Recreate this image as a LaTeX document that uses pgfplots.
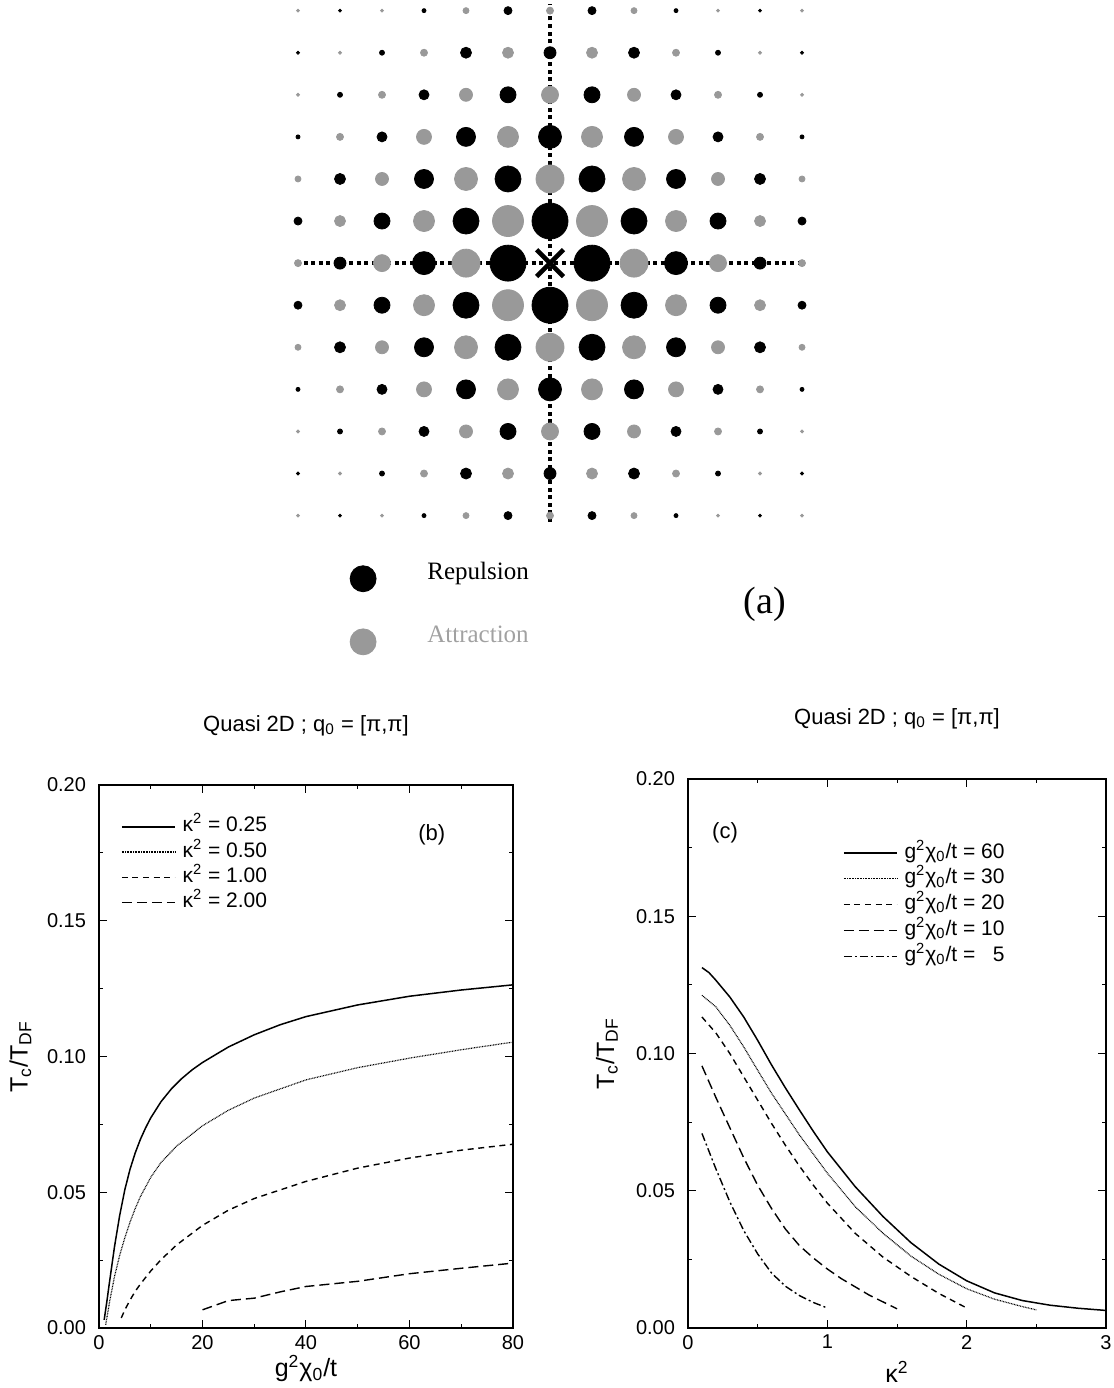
\documentclass[border=0pt]{standalone}
\usepackage{pgfplots}
\pgfplotsset{compat=1.18}
\usepackage{pgfplotstable}
\usepackage{fontspec}
\setmainfont{Liberation Serif}
\newfontfamily\hel{Liberation Sans}
\definecolor{dotgray}{gray}{0.6}
\definecolor{txtgray}{gray}{0.63}

\pgfplotstableread{
i j d
-5 6 3
-3 6 4
-1 6 8
1 6 8
3 6 4
5 6 3
-6 5 3
-4 5 5
-2 5 11
0 5 12
2 5 11
4 5 5
6 5 3
-5 4 5
-3 4 10
-1 4 16
1 4 16
3 4 10
5 4 5
-6 3 4
-4 3 10
-2 3 19
0 3 23
2 3 19
4 3 10
6 3 4
-5 2 11
-3 2 19
-1 2 26
1 2 26
3 2 19
5 2 11
-6 1 8
-4 1 16
-2 1 26
0 1 36
2 1 26
4 1 16
6 1 8
-5 0 12
-3 0 23
-1 0 36
1 0 36
3 0 23
5 0 12
-6 -1 8
-4 -1 16
-2 -1 26
0 -1 36
2 -1 26
4 -1 16
6 -1 8
-5 -2 11
-3 -2 19
-1 -2 26
1 -2 26
3 -2 19
5 -2 11
-6 -3 4
-4 -3 10
-2 -3 19
0 -3 23
2 -3 19
4 -3 10
6 -3 4
-5 -4 5
-3 -4 10
-1 -4 16
1 -4 16
3 -4 10
5 -4 5
-6 -5 3
-4 -5 5
-2 -5 11
0 -5 12
2 -5 11
4 -5 5
6 -5 3
-5 -6 3
-3 -6 4
-1 -6 8
1 -6 8
3 -6 4
5 -6 3
}\blackdots

\pgfplotstableread{
i j d
-6 6 3
-4 6 3
-2 6 6
0 6 7
2 6 6
4 6 3
6 6 3
-5 5 3
-3 5 7
-1 5 11
1 5 11
3 5 7
5 5 3
-6 4 3
-4 4 7
-2 4 13
0 4 17
2 4 13
4 4 7
6 4 3
-5 3 7
-3 3 15
-1 3 21
1 3 21
3 3 15
5 3 7
-6 2 6
-4 2 13
-2 2 23
0 2 28
2 2 23
4 2 13
6 2 6
-5 1 11
-3 1 21
-1 1 31
1 1 31
3 1 21
5 1 11
-6 0 7
-4 0 17
-2 0 28
2 0 28
4 0 17
6 0 7
-5 -1 11
-3 -1 21
-1 -1 31
1 -1 31
3 -1 21
5 -1 11
-6 -2 6
-4 -2 13
-2 -2 23
0 -2 28
2 -2 23
4 -2 13
6 -2 6
-5 -3 7
-3 -3 15
-1 -3 21
1 -3 21
3 -3 15
5 -3 7
-6 -4 3
-4 -4 7
-2 -4 13
0 -4 17
2 -4 13
4 -4 7
6 -4 3
-5 -5 3
-3 -5 7
-1 -5 11
1 -5 11
3 -5 7
5 -5 3
-6 -6 3
-4 -6 3
-2 -6 6
0 -6 7
2 -6 6
4 -6 3
6 -6 3
}\graydots

\pgfplotstableread{
x y
1 0.003
1.5 0.0095
2 0.0165
3 0.030
4 0.0415
5 0.0510
6 0.0585
7 0.0645
8 0.0695
9 0.0737
10 0.0774
12 0.0834
14 0.0881
16 0.0919
18 0.0951
20 0.0978
25 0.1035
30 0.1080
35 0.1117
40 0.1147
50 0.1190
60 0.1222
70 0.1245
80 0.1264
}\kA
\pgfplotstableread{
x y
1.3 0.0012
2 0.0092
3 0.0190
4 0.0268
5 0.0333
6 0.0390
7 0.0440
8 0.0484
10 0.0555
12 0.0610
15 0.0670
20 0.0745
25 0.0802
30 0.0847
40 0.0914
50 0.0959
60 0.0994
70 0.1025
80 0.1053
}\kB
\pgfplotstableread{
x y
4.3 0.0037
5 0.0067
6 0.0103
7 0.0135
8 0.0162
10 0.0210
12 0.0252
15 0.0306
20 0.0378
25 0.0434
30 0.0477
40 0.0540
50 0.0589
60 0.0626
70 0.0655
80 0.0677
}\kC
\pgfplotstableread{
x y
20 0.0067
25 0.0101
30 0.011
35 0.0133
40 0.0153
50 0.0172
60 0.0200
70 0.0220
80 0.0239
}\kD

\pgfplotstableread{
x y
0.1 0.1313
0.15 0.1295
0.2 0.1267
0.3 0.1206
0.4 0.1133
0.5 0.1048
0.6 0.0958
0.7 0.0874
0.8 0.0794
0.9 0.0716
1.0 0.0642
1.2 0.0515
1.4 0.0406
1.6 0.0311
1.8 0.0233
2.0 0.0172
2.2 0.0128
2.4 0.0100
2.6 0.0083
2.8 0.0072
3.0 0.0064
}\gA
\pgfplotstableread{
x y
0.1 0.1212
0.2 0.117
0.3 0.1103
0.4 0.1024
0.5 0.0939
0.6 0.0855
0.8 0.0703
1.0 0.0564
1.2 0.0442
1.4 0.0345
1.6 0.0262
1.8 0.0196
2.0 0.0143
2.2 0.0105
2.4 0.0078
2.5 0.0066
}\gB
\pgfplotstableread{
x y
0.1 0.1133
0.2 0.1075
0.3 0.100
0.4 0.0915
0.5 0.083
0.6 0.0745
0.7 0.0665
0.8 0.059
0.9 0.052
1.0 0.0455
1.2 0.0345
1.4 0.0258
1.6 0.0188
1.8 0.0126
2.0 0.0073
}\gC
\pgfplotstableread{
x y
0.1 0.0955
0.2 0.084
0.3 0.073
0.4 0.062
0.5 0.052
0.6 0.0435
0.7 0.036
0.8 0.030
0.9 0.0255
1.0 0.0215
1.1 0.018
1.2 0.015
1.3 0.012
1.4 0.0095
1.5 0.007
}\gD
\pgfplotstableread{
x y
0.1 0.0709
0.2 0.058
0.3 0.046
0.4 0.0355
0.5 0.027
0.6 0.020
0.7 0.0152
0.8 0.0118
0.9 0.0093
1.0 0.0073
}\gE

\pgfplotsset{
  panel/.style={
    scale only axis,
    tick align=inside,
    major tick length=4pt, minor tick length=2pt,
    every tick/.style={black, line width=0.5pt},
    axis line style={line width=0.8pt},
    ymin=0, ymax=0.2,
    ytick={0,0.05,0.1,0.15,0.2},
    minor ytick={0.025,0.075,0.125,0.175},
    scaled y ticks=false,
    /pgf/number format/assume math mode=true,
    yticklabel style={xshift=-3pt, /pgf/number format/.cd, fixed, fixed zerofill, precision=2},
    tick label style={font=\hel\fontsize{10}{12}\selectfont},
    label style={font=\hel\fontsize{12.5}{15}\selectfont},
    title style={font=\hel\fontsize{11}{13}\selectfont},
    legend style={draw=none, fill=none, font=\hel\fontsize{10.5}{12}\selectfont,
      inner sep=0pt, row sep=1.6pt, column sep=3pt,
      nodes={inner sep=0.5pt, text height=7.5pt, text depth=2.5pt}},
    legend cell align=left,
    legend image code/.code={\draw[##1] (0pt,0pt) -- (26.5pt,0pt);},
  },
  lA/.style={black, line width=0.75pt},
  lB/.style={black, line width=0.6pt, dash pattern=on 0.4pt off 0.4pt},
  lC/.style={black, line width=0.7pt, dash pattern=on 3pt off 2.3pt},
  lD/.style={black, line width=0.7pt, dash pattern=on 5pt off 2.5pt},
  lE/.style={black, line width=0.7pt, dash pattern=on 4pt off 1.5pt on 1pt off 1.5pt},
}

\begin{document}
\begin{tikzpicture}
\useasboundingbox (0,0) rectangle (557pt,-694pt);

% ---------------- panel (a) ----------------
\begin{axis}[
  x=21pt, y=21.04pt, xmin=-7, xmax=7, ymin=-11, ymax=7,
  axis lines=none, clip=false,
  at={(128pt,-363pt)}, anchor=south west,
]
\addplot[scatter, only marks, mark=*,
  scatter/use mapped color={draw=dotgray, fill=dotgray},
  visualization depends on={\thisrow{d} \as \dotd},
  scatter/@pre marker code/.append style={/tikz/mark size=\dotd/4}]
  table[x=i, y=j] {\graydots};
\addplot[scatter, only marks, mark=*,
  scatter/use mapped color={draw=black, fill=black},
  visualization depends on={\thisrow{d} \as \dotd},
  scatter/@pre marker code/.append style={/tikz/mark size=\dotd/4}]
  table[x=i, y=j] {\blackdots};
\addplot[black, line width=2pt, dash pattern=on 2pt off 1.8pt] coordinates {(-6.05,0) (6.05,0)};
\addplot[black, line width=2pt, dash pattern=on 2pt off 1.8pt] coordinates {(0,-6.15) (0,6.15)};
\addplot[only marks, mark=x, mark size=9.5pt, mark options={black, line width=2.3pt}] coordinates {(0,0)};
\addplot[only marks, mark=*, mark size=6.5pt, mark options={draw=black, fill=black}] coordinates {(-4.45,-7.5)};
\addplot[only marks, mark=*, mark size=6.5pt, mark options={draw=dotgray, fill=dotgray}] coordinates {(-4.45,-9.0)};
\node[anchor=base west, inner sep=0pt, font=\fontsize{12.5}{15}\selectfont] at (axis cs:-2.93,-7.53) {Repulsion};
\node[anchor=base west, inner sep=0pt, text=txtgray, font=\fontsize{12.5}{15}\selectfont] at (axis cs:-2.93,-9.01) {Attraction};
\node[anchor=center, inner sep=0pt, font=\fontsize{19}{22}\selectfont] at (axis cs:5.12,-8.1) {(a)};
\end{axis}

% ---------------- panel (b) ----------------
\begin{axis}[panel,
  width=207pt, height=271.5pt,
  at={(49.5pt,-664pt)}, anchor=south west,
  xmin=0, xmax=80,
  xtick={0,20,40,60,80}, minor xtick={10,30,50,70},
  title={Quasi 2D ; q\textsubscript{0} = [π,π]},
  title style={at={(axis description cs:0.5,1)}, anchor=center, yshift=23.5pt},
  xlabel={g\textsuperscript{2}χ\textsubscript{0}/t},
  ylabel={T\textsubscript{c}/T\textsubscript{DF}},
  xlabel style={at={(axis description cs:0.5,-0.074)}, anchor=center},
  ylabel style={at={(axis description cs:-0.19,0.5)}, anchor=center, rotate=0},
  legend style={at={(axis cs:4.2,0.1888)}, anchor=north west},
]
\addplot[lA] table {\kA}; \addlegendentry{κ\textsuperscript{2} = 0.25}
\addplot[lB] table {\kB}; \addlegendentry{κ\textsuperscript{2} = 0.50}
\addplot[lC] table {\kC}; \addlegendentry{κ\textsuperscript{2} = 1.00}
\addplot[lD] table {\kD}; \addlegendentry{κ\textsuperscript{2} = 2.00}
\node[font=\hel\fontsize{11}{13}\selectfont] at (axis cs:64.3,0.1816) {(b)};
\end{axis}

% ---------------- panel (c) ----------------
\begin{axis}[panel,
  width=209pt, height=274.5pt,
  at={(344pt,-664pt)}, anchor=south west,
  xmin=0, xmax=3,
  xtick={0,1,2,3}, minor xtick={0.5,1.5,2.5},
  title={Quasi 2D ; q\textsubscript{0} = [π,π]},
  title style={at={(axis description cs:0.5,1)}, anchor=center, yshift=24pt},
  xlabel={κ\textsuperscript{2}},
  ylabel={T\textsubscript{c}/T\textsubscript{DF}},
  xlabel style={at={(axis description cs:0.5,-0.08)}, anchor=center},
  ylabel style={at={(axis description cs:-0.194,0.5)}, anchor=center},
  legend style={at={(axis cs:1.11,0.1772)}, anchor=north west, row sep=1.9pt},
]
\addplot[lA] table {\gA}; \addlegendentry{g\textsuperscript{2}χ\textsubscript{0}/t = 60}
\addplot[lB] table {\gB}; \addlegendentry{g\textsuperscript{2}χ\textsubscript{0}/t = 30}
\addplot[lC] table {\gC}; \addlegendentry{g\textsuperscript{2}χ\textsubscript{0}/t = 20}
\addplot[lD] table {\gD}; \addlegendentry{g\textsuperscript{2}χ\textsubscript{0}/t = 10}
\addplot[lE] table {\gE}; \addlegendentry{g\textsuperscript{2}χ\textsubscript{0}/t = \phantom{0}5}
\node[font=\hel\fontsize{11}{13}\selectfont] at (axis cs:0.266,0.1803) {(c)};
\end{axis}
\end{tikzpicture}
\end{document}
